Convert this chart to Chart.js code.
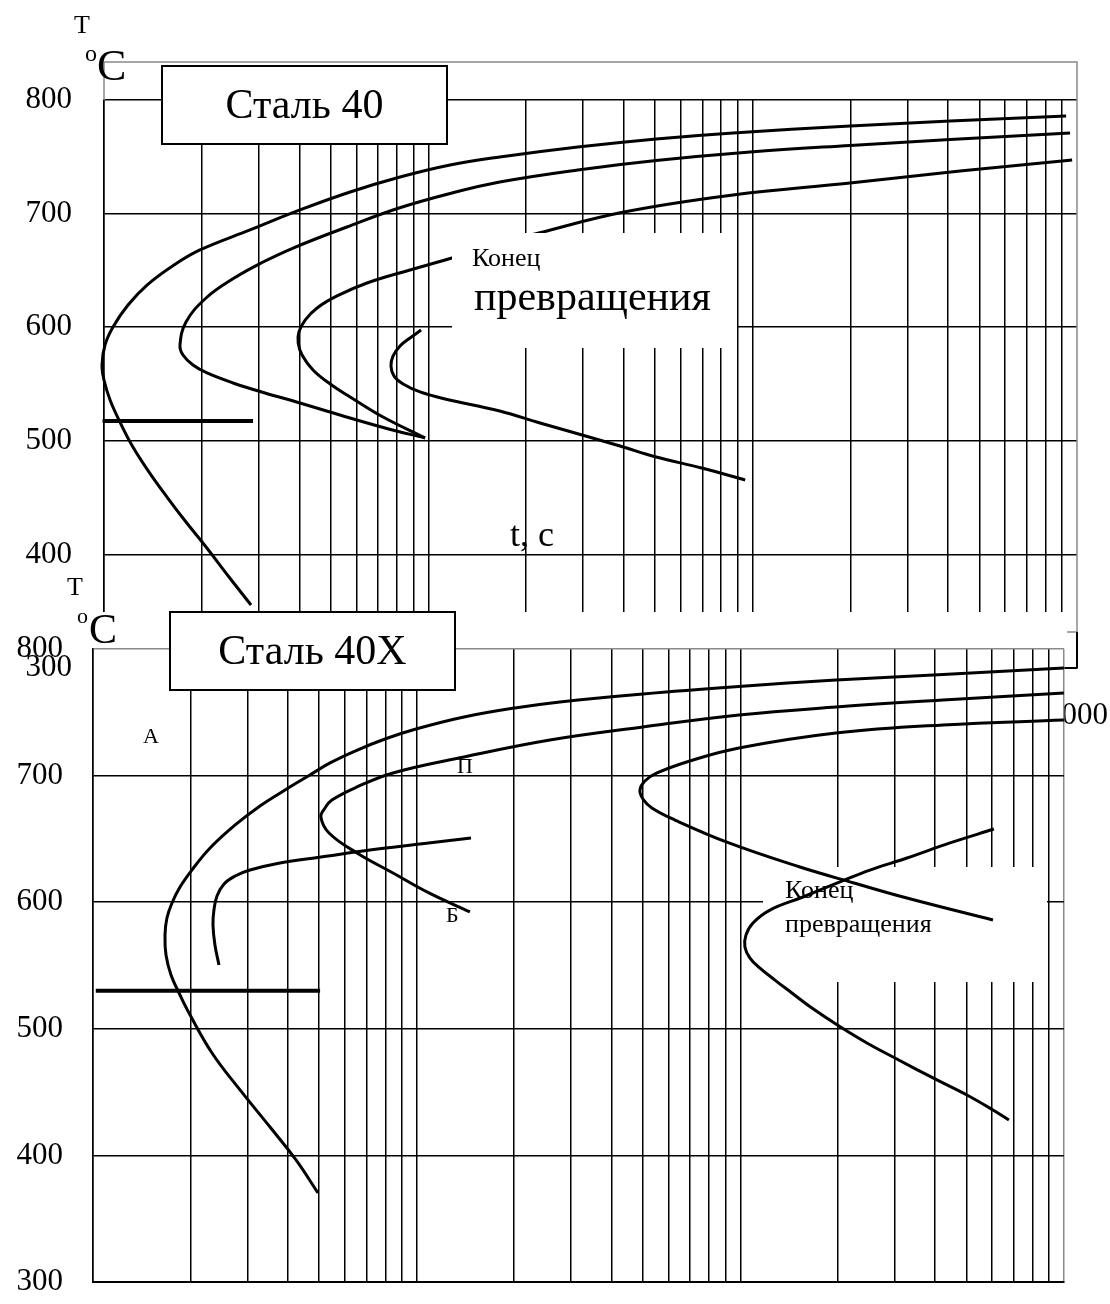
<!DOCTYPE html>
<html lang="ru">
<head>
<meta charset="utf-8">
<title>Сталь 40 / Сталь 40Х</title>
<script src="https://cdn.jsdelivr.net/npm/chart.js@4.4.1/dist/chart.umd.min.js"></script>
<style>
  html, body { margin: 0; padding: 0; background: #fff; }
  #lienzo { position: relative; width: 1110px; height: 1304px; overflow: hidden; }
  #lienzo canvas { position: absolute; left: 0; top: 0; }
</style>
</head>
<body>
<div id="lienzo">
  <canvas id="graficoStal40" width="1110" height="1304"></canvas>
  <canvas id="graficoStal40X" width="1110" height="1304"></canvas>
</div>
<script>
// ejes: tiempo (s, escala log) y temperatura (°C)
const tiemposSeg = [1, 2, 3, 4, 5, 6, 7, 8, 9, 10, 20, 30, 40, 50, 60, 70, 80, 90,
                    100, 200, 300, 400, 500, 600, 700, 800, 900, 1000];
const etiquetasTiempo = [1, 10, 100, 1000];
const temperaturas = [300, 400, 500, 600, 700, 800];

// Сталь 40 — curvas [t, T]
const st40Curva1 = [[925.6, 785.9], [406, 781.5], [199.7, 777.1], [87, 771], [50.4, 765.7], [28.9, 758.6],
                    [16.6, 749.8], [11.67, 742.8], [8.18, 732.2], [5.74, 719], [4.02, 703.2], [2.82, 685.6],
                    [1.977, 668], [1.644, 654.8], [1.357, 637.1], [1.186, 619.5], [1.066, 600.2], [1.007, 584.3],
                    [0.986, 566.7], [1.0, 553.5], [1.044, 535.9], [1.12, 516.5], [1.228, 494.5], [1.377, 472.5],
                    [1.564, 450.5], [1.79, 428.5], [2.064, 406.5], [2.429, 380.1], [2.84, 355.5]];
const st40Curva2 = [[952, 771], [406, 765.2], [199.7, 760], [98.2, 754.2], [50.4, 746.7], [28.9, 738.4],
                    [16.6, 727.8], [11.67, 717.7], [8.12, 704.9], [5.61, 688.2], [3.83, 669.7], [3.05, 656.5],
                    [2.52, 643.3], [2.064, 625.7], [1.79, 604.6], [1.715, 584.3], [1.752, 575.5], [1.881, 566.7],
                    [2.078, 559.7], [2.5, 550.9], [3.136, 542.1], [4.02, 533.3], [5.34, 522.7], [7.35, 511.3],
                    [9.77, 502.5]];
const st40Curva3 = [[966, 747.2], [436, 737.5], [199.7, 726.9], [87, 716.4], [40.1, 701.4], [21.9, 682.9],
                    [16.06, 672.4], [11.83, 660.9], [8.78, 650.4], [6.47, 638.9], [5.23, 627.5], [4.54, 616.9],
                    [4.17, 606.3], [3.99, 595.8], [3.97, 586.1], [4.08, 575.5], [4.41, 562.3], [4.98, 550],
                    [5.74, 538.6], [7.25, 520.9], [9.77, 502.5]];
const st40Curva4 = [[9.5, 597.5], [8.78, 590.5], [8.18, 583.5], [7.78, 574.6], [7.67, 565.8], [7.84, 557],
                    [8.36, 550], [9.43, 543], [11.26, 536.8], [16.6, 526.2], [22.1, 515.7], [29.8, 505.1],
                    [39, 495.4], [50.4, 485.7], [69.6, 476.1], [94.8, 465.5]];
const st40Mn = [[0.99, 517.5], [2.88, 517.5]];

// Сталь 40Х — curvas [t, T]
const st40xCurva1 = [[999, 785], [422.6, 779.9], [197.4, 775.5], [99, 770.4], [50, 764.5], [27.7, 758.2],
                     [20.1, 753.4], [14, 746.3], [9.95, 736.8], [7.98, 728.9], [6.45, 719.4], [5.4, 710],
                     [4.68, 700.5], [3.92, 688.6], [3.28, 676], [2.75, 661], [2.3, 642.8], [2.02, 625.4],
                     [1.857, 612], [1.754, 599.4], [1.692, 587.5], [1.669, 574.1], [1.681, 558.3], [1.742, 542.5],
                     [1.857, 526.7], [1.98, 512.5], [2.332, 480.9], [2.846, 451.7], [3.523, 422.4],
                     [4.238, 396.4], [4.956, 370.3]];
const st40xCurva2 = [[999, 765.2], [422.6, 759.7], [197.4, 754.2], [99, 747.9], [50, 738.4], [25.8, 728.1],
                     [14, 714.7], [8.45, 702.1], [6.54, 691], [5.47, 680.7], [5.21, 674.4], [5.06, 667.3],
                     [5.36, 654.7], [6.54, 638.9], [8.45, 623.1], [10.91, 607.3], [14.61, 592.3]];
const st40xCurva3 = [[999, 743.9], [422.6, 740], [197.4, 733.6], [99, 721.8], [71.4, 712.3], [55.3, 702.1],
                     [50.7, 695.7], [48.96, 688.6], [50, 681.5], [53.3, 674.4], [62.8, 664.9], [92.2, 646.8],
                     [152.8, 627.8], [224.4, 615.2], [327.1, 603.3], [603.2, 585.9]];
const st40xCurva4 = [[14.72, 650.7], [10.24, 646], [7.17, 641.2], [5.06, 635.7], [3.78, 631], [3.055, 625.4],
                     [2.75, 620.7], [2.54, 614.4], [2.416, 604.9], [2.364, 593.8], [2.348, 582], [2.381, 566.2],
                     [2.45, 550.4]];
const st40xCurva5 = [[607.4, 657.8], [444.2, 646.8], [327.1, 634.9], [251.4, 625.4], [203.1, 616], [156.1, 604.1],
                     [123.4, 593.8], [109.4, 583.6], [104.1, 574.1], [103.3, 564.6], [107.1, 555.9], [115, 548],
                     [127.9, 538.5], [144.3, 528.3], [166.4, 516.4], [201.7, 502.2], [246.1, 488.8], [300.4, 476.9],
                     [405, 459.6], [501.2, 447.7], [603.2, 435.9], [675.7, 428]];
const st40xMn = [[1.02, 530], [5.03, 530]];

const FUENTE = '"Liberation Serif", "Times New Roman", serif';
const GRIS = '#8a8a8a';

Chart.defaults.font.family = FUENTE;
Chart.defaults.color = '#000';

function texto(ctx, str, x, y, size, align) {
    ctx.font = size + 'px ' + FUENTE;
    ctx.textAlign = align || 'left';
    ctx.textBaseline = 'alphabetic';
    ctx.fillStyle = '#000';
    ctx.fillText(str, x, y);
}

function serie(puntos, grosor, tension) {
    return {
        data: puntos.map(p => ({ x: p[0], y: p[1] })),
        showLine: true,
        borderColor: '#000',
        borderWidth: grosor,
        tension: tension,
        pointRadius: 0,
        fill: false,
        clip: false
    };
}

function crearDiagrama(id, cfg) {
    return new Chart(document.getElementById(id), {
        type: 'scatter',
        data: {
            datasets: cfg.curvas.map(c => serie(c, 3, 0.4)).concat([serie(cfg.mn, 4, 0)])
        },
        options: {
            responsive: false,
            animation: false,
            events: [],
            layout: { padding: cfg.padding },
            scales: {
                x: {
                    type: 'logarithmic',
                    min: 1,
                    max: 1000,
                    afterBuildTicks: s => { s.ticks = tiemposSeg.map(v => ({ value: v })); },
                    afterFit: s => {
                        s.height = cfg.altoX;
                        s.paddingLeft = 0;
                        s.paddingRight = 0;
                    },
                    grid: {
                        color: c => (c.tick && c.tick.value === 1000) ? cfg.colorBordeDerecho : '#000',
                        lineWidth: 1.5,
                        drawTicks: false
                    },
                    border: { display: true, color: '#000', width: 2 },
                    ticks: {
                        display: cfg.etiquetasX,
                        autoSkip: false,
                        maxRotation: 0,
                        minRotation: 0,
                        padding: 29,
                        font: { size: 31 },
                        callback: v => etiquetasTiempo.includes(v) ? String(v) : ''
                    }
                },
                y: {
                    type: 'linear',
                    min: 300,
                    max: 800,
                    afterBuildTicks: s => { s.ticks = temperaturas.map(v => ({ value: v })); },
                    afterFit: s => {
                        s.width = cfg.anchoY;
                        s.paddingTop = 0;
                        s.paddingBottom = 0;
                    },
                    grid: {
                        color: c => (c.tick && c.tick.value === 800) ? cfg.colorBordeSuperior : '#000',
                        lineWidth: 1.5,
                        drawTicks: false
                    },
                    border: { display: true, color: '#000', width: 1.5 },
                    ticks: {
                        padding: cfg.rellenoY,
                        font: { size: 31 }
                    }
                }
            },
            plugins: {
                legend: { display: false },
                tooltip: { enabled: false }
            }
        },
        plugins: [cfg.decoracion]
    });
}

// Сталь 40 (arriba)
crearDiagrama('graficoStal40', {
    curvas: [st40Curva1, st40Curva2, st40Curva3, st40Curva4],
    mn: st40Mn,
    padding: { top: 100, right: 33, left: 0, bottom: 0 },
    anchoY: 104,
    altoX: 636,
    rellenoY: 32,
    etiquetasX: true,
    colorBordeDerecho: 'rgba(0,0,0,0)',
    colorBordeSuperior: '#000',
    decoracion: {
        id: 'decoracionStal40',
        afterDatasetsDraw(chart) {
            const ctx = chart.ctx;
            const a = chart.chartArea;
            ctx.save();
            // hueco blanco de "Конец превращения"
            ctx.fillStyle = '#fff';
            ctx.fillRect(452, 233, 285, 115);
            texto(ctx, 'Конец', 472, 266, 26);
            texto(ctx, 'превращения', 474, 310, 42);

            // recuadro del título
            ctx.fillStyle = '#fff';
            ctx.fillRect(162, 66, 285, 78);
            ctx.lineWidth = 2;
            ctx.strokeStyle = '#000';
            ctx.strokeRect(162, 66, 285, 78);
            texto(ctx, 'Сталь 40', 304.5, 118, 42, 'center');

            texto(ctx, 't, c', 510, 546, 36);

            // marco gris
            ctx.strokeStyle = GRIS;
            ctx.lineWidth = 1.5;
            ctx.beginPath();
            ctx.moveTo(a.left, a.top);
            ctx.lineTo(a.left, a.top - 38);
            ctx.lineTo(a.right, a.top - 38);
            ctx.lineTo(a.right, 632);
            ctx.lineTo(a.right - 10, 632);
            ctx.stroke();
            ctx.strokeStyle = '#000';
            ctx.lineWidth = 2;
            ctx.beginPath();
            ctx.moveTo(a.right, 632);
            ctx.lineTo(a.right, a.bottom);
            ctx.stroke();

            texto(ctx, 'Т', 74, 33, 26);
            texto(ctx, 'o', 85, 61, 24);
            texto(ctx, 'C', 97, 80, 44);
            ctx.restore();
        }
    }
});

// Сталь 40Х (abajo, encima del anterior)
crearDiagrama('graficoStal40X', {
    curvas: [st40xCurva1, st40xCurva2, st40xCurva3, st40xCurva4, st40xCurva5],
    mn: st40xMn,
    padding: { top: 649, right: 46, left: 0, bottom: 0 },
    anchoY: 93,
    altoX: 22,
    rellenoY: 30,
    etiquetasX: false,
    colorBordeDerecho: GRIS,
    colorBordeSuperior: GRIS,
    decoracion: {
        id: 'decoracionStal40X',
        beforeDraw(chart) {
            const ctx = chart.ctx;
            ctx.save();
            ctx.fillStyle = '#fff';
            ctx.fillRect(75, 612, chart.chartArea.right - 75, chart.height - 612);
            ctx.restore();
        },
        beforeDatasetsDraw(chart) {
            const ctx = chart.ctx;
            ctx.save();
            ctx.fillStyle = '#fff';
            ctx.fillRect(763, 867, 284, 115);
            texto(ctx, 'Конец', 785, 898, 26);
            texto(ctx, 'превращения', 785, 932, 26);

            ctx.fillStyle = '#fff';
            ctx.fillRect(170, 612, 285, 78);
            ctx.lineWidth = 2;
            ctx.strokeStyle = '#000';
            ctx.strokeRect(170, 612, 285, 78);
            texto(ctx, 'Сталь 40Х', 312.5, 664, 42, 'center');

            texto(ctx, 'А', 143, 743, 22);
            texto(ctx, 'П', 457, 773, 22);
            texto(ctx, 'Б', 446, 922, 22);

            texto(ctx, 'Т', 67, 595, 26);
            texto(ctx, 'o', 77, 623, 22);
            texto(ctx, 'C', 89, 643, 42);
            ctx.restore();
        }
    }
});
</script>
</body>
</html>
